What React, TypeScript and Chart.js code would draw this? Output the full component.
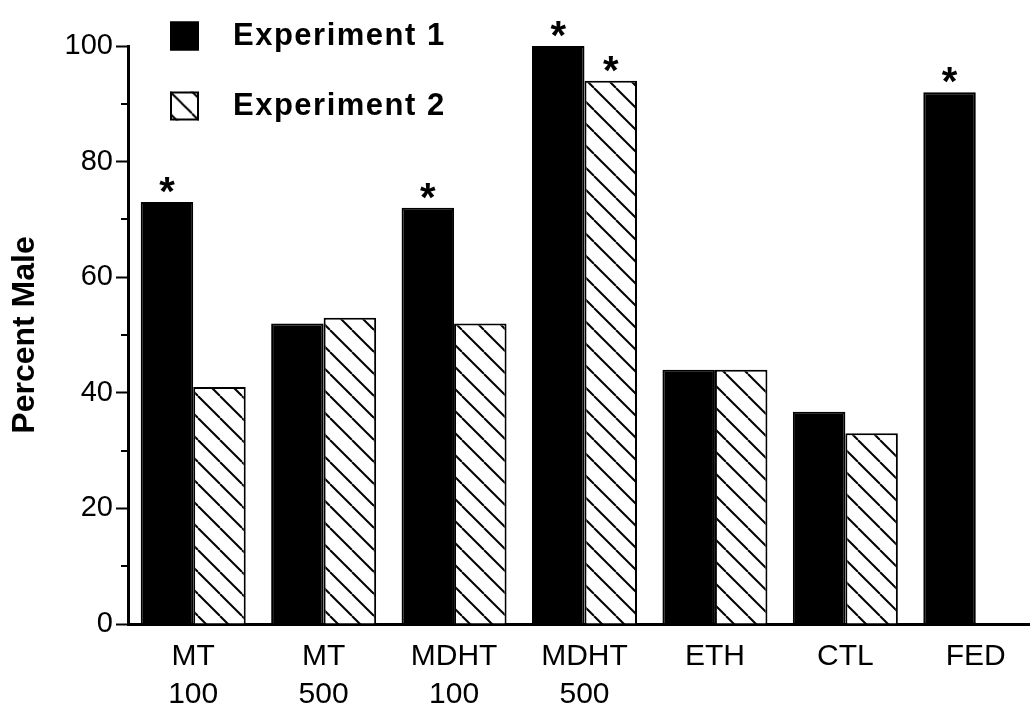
import React, { useEffect, useRef } from 'react';
import { Chart, registerables } from 'chart.js';

Chart.register(...registerables);

// ---- Data ----
const categories: string[][] = [
  ['MT', '100'],
  ['MT', '500'],
  ['MDHT', '100'],
  ['MDHT', '500'],
  ['ETH'],
  ['CTL'],
  ['FED'],
];
const experiment1: (number | null)[] = [73, 52, 72, 100, 44, 36.7, 92];
const experiment2: (number | null)[] = [41, 53, 52, 94, 44, 33, null];
const significant1: boolean[] = [true, false, true, true, false, false, true];
const significant2: boolean[] = [false, false, false, true, false, false, false];
const seriesNames: string[] = ['Experiment 1', 'Experiment 2'];
const yMin = 0;
const yMax = 100;
const yStep = 20;
const minorTicks: number[] = [10, 30, 50, 70, 90];
const yTitle = 'Percent Male';

const FONT = '"Liberation Sans", Arial, Helvetica, sans-serif';

function makeHatch(): CanvasPattern | string {
  const s = 22;
  const c = document.createElement('canvas');
  c.width = s;
  c.height = s;
  const g = c.getContext('2d');
  if (!g) return '#fff';
  g.fillStyle = '#fff';
  g.fillRect(0, 0, s, s);
  g.strokeStyle = '#000';
  g.lineWidth = 2;
  for (const k of [-s, 0, s]) {
    g.beginPath();
    g.moveTo(k, 0);
    g.lineTo(k + s, s);
    g.stroke();
  }
  return g.createPattern(c, 'repeat') || '#fff';
}

const decorPlugin = {
  id: 'decor',
  afterDraw(chart: any) {
    const ctx: CanvasRenderingContext2D = chart.ctx;
    const area = chart.chartArea;
    const yScale = chart.scales.y;

    // minor ticks
    ctx.save();
    ctx.strokeStyle = '#000';
    ctx.lineWidth = 2;
    for (const v of minorTicks) {
      const py = Math.round(yScale.getPixelForValue(v));
      ctx.beginPath();
      ctx.moveTo(area.left - 7, py);
      ctx.lineTo(area.left, py);
      ctx.stroke();
    }
    ctx.restore();

    // significance asterisks
    const sigs = [significant1, significant2];
    ctx.save();
    ctx.fillStyle = '#000';
    ctx.font = `bold 40px ${FONT}`;
    ctx.textAlign = 'center';
    ctx.textBaseline = 'alphabetic';
    const m = ctx.measureText('*');
    const asc = m.actualBoundingBoxAscent;
    const desc = m.actualBoundingBoxDescent;
    sigs.forEach((arr, di) => {
      const meta = chart.getDatasetMeta(di);
      arr.forEach((flag, j) => {
        if (!flag) return;
        const bar = meta.data[j];
        if (!bar) return;
        const centerY = bar.y - 17;
        const baseline = centerY + (asc - desc) / 2;
        ctx.fillText('*', bar.x, baseline);
      });
    });
    ctx.restore();

    // legend
    ctx.save();
    const ds = chart.data.datasets;
    const boxX = 170;
    const boxSize = 29;
    const rows = [36, 106];
    ds.forEach((d: any, i: number) => {
      const cy = rows[i];
      const by = cy - boxSize / 2;
      ctx.save();
      ctx.translate(boxX, by);
      ctx.fillStyle = d.backgroundColor;
      ctx.fillRect(0, 0, boxSize, boxSize);
      ctx.strokeStyle = '#000';
      ctx.lineWidth = 2;
      ctx.strokeRect(1, 1, boxSize - 2, boxSize - 2);
      ctx.restore();
      ctx.fillStyle = '#000';
      ctx.font = `bold 31px ${FONT}`;
      (ctx as any).letterSpacing = '1.5px';
      ctx.textAlign = 'left';
      ctx.textBaseline = 'middle';
      ctx.fillText(d.label, 233, cy);
      (ctx as any).letterSpacing = '0px';
    });
    ctx.restore();
  },
};

export default function App() {
  const ref = useRef<HTMLCanvasElement | null>(null);

  useEffect(() => {
    const canvas = ref.current;
    if (!canvas) return;
    const hatch = makeHatch();
    const chart = new Chart(canvas, {
      type: 'bar',
      data: {
        labels: categories,
        datasets: [
          {
            label: seriesNames[0],
            data: experiment1,
            backgroundColor: '#000',
            borderColor: '#000',
            borderWidth: 2,
            categoryPercentage: 0.805,
            barPercentage: 1,
          },
          {
            label: seriesNames[1],
            data: experiment2,
            backgroundColor: hatch as any,
            borderColor: '#000',
            borderWidth: 2,
            categoryPercentage: 0.805,
            barPercentage: 1,
          },
        ],
      },
      options: {
        responsive: false,
        animation: false,
        devicePixelRatio: 1,
        layout: { padding: { top: 46, right: 4, left: 0, bottom: 0 } },
        plugins: {
          legend: { display: false },
          tooltip: { enabled: false },
        },
        scales: {
          x: {
            offset: true,
            grid: { display: false, drawTicks: false },
            border: { display: true, color: '#000', width: 3 },
            ticks: {
              color: '#000',
              font: { family: FONT, size: 30, lineHeight: 1.27 },
              padding: 14,
              maxRotation: 0,
              autoSkip: false,
            },
            afterFit: (s: any) => {
              s.height = 88;
            },
          },
          y: {
            min: yMin,
            max: yMax,
            ticks: {
              stepSize: yStep,
              color: '#000',
              font: { family: FONT, size: 29 },
              padding: 3,
            },
            grid: {
              drawOnChartArea: false,
              drawTicks: true,
              tickLength: 12,
              tickWidth: 2,
              tickColor: '#000',
            },
            border: { display: true, color: '#000', width: 3 },
            title: {
              display: true,
              text: yTitle,
              color: '#000',
              font: { family: FONT, size: 32, weight: 'bold' },
              padding: { top: 6, bottom: 0 },
            },
            afterFit: (s: any) => {
              s.width = 128;
            },
          },
        },
      },
      plugins: [decorPlugin],
    });
    return () => chart.destroy();
  }, []);

  return (
    <div
      style={{
        position: 'absolute',
        left: 0,
        top: 0,
        width: 1030,
        height: 712,
        overflow: 'hidden',
        background: '#fff',
      }}
    >
      <canvas ref={ref} width={1045} height={712} style={{ display: 'block' }} />
    </div>
  );
}
